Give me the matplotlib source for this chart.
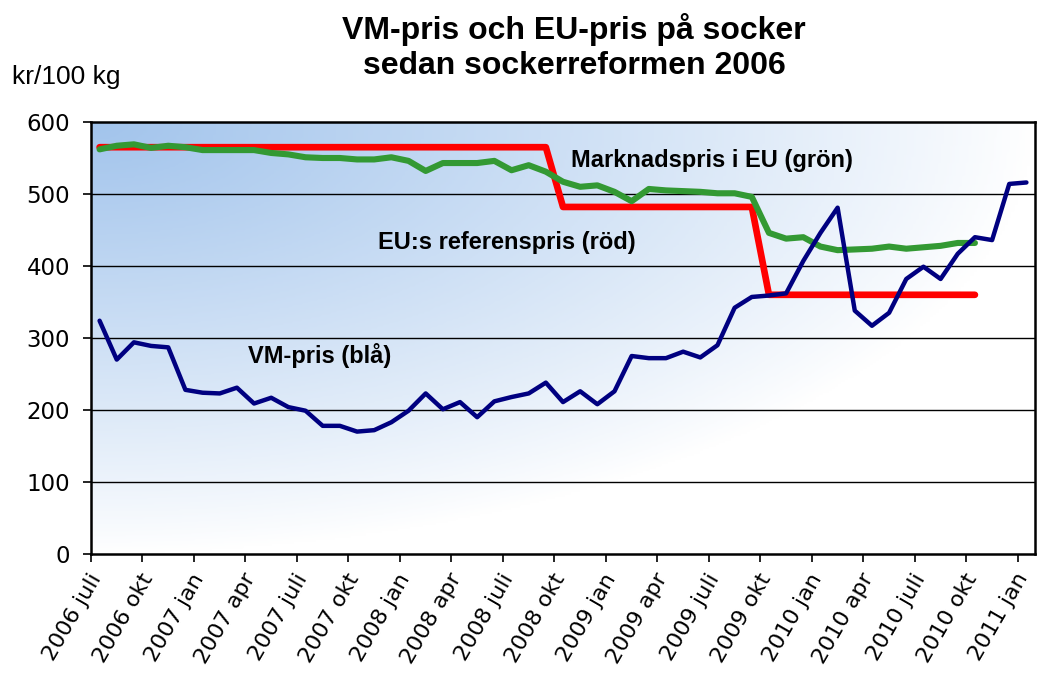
import numpy as np
import matplotlib
matplotlib.use("Agg")
import matplotlib.pyplot as plt
from matplotlib.colors import LinearSegmentedColormap
from matplotlib.transforms import ScaledTranslation


# monthly series, 2006 juli .. 2011 jan
tick_labels = [
    "2006 juli", "2006 okt", "2007 jan", "2007 apr", "2007 juli", "2007 okt",
    "2008 jan", "2008 apr", "2008 juli", "2008 okt", "2009 jan", "2009 apr",
    "2009 juli", "2009 okt", "2010 jan", "2010 apr", "2010 juli", "2010 okt",
    "2011 jan",
]
y_ticks = [0, 100, 200, 300, 400, 500, 600]

vm_pris = [
    324, 270, 294, 289, 287, 228, 224, 223, 231, 209,
    217, 204, 199, 178, 178, 170, 172, 183, 199, 223,
    201, 211, 190, 212, 218, 223, 238, 211, 226, 208,
    226, 275, 272, 272, 281, 273, 290, 342, 357, 359,
    362, 407, 446, 481, 338, 317, 335, 382, 399, 382,
    417, 440, 436, 514, 516,
]

marknadspris_eu = [
    562, 567, 569, 564, 567, 565, 561, 561, 561, 561,
    557, 555, 551, 550, 550, 548, 548, 551, 546, 532,
    543, 543, 543, 546, 533, 540, 531, 517, 510, 512,
    503, 490, 507, 505, 504, 503, 501, 501, 496, 446,
    438, 440, 427, 422, 423, 424, 427, 424, 426, 428,
    432, 432,
]

referenspris_eu = [
    565, 565, 565, 565, 565, 565, 565, 565, 565, 565,
    565, 565, 565, 565, 565, 565, 565, 565, 565, 565,
    565, 565, 565, 565, 565, 565, 565, 482, 482, 482,
    482, 482, 482, 482, 482, 482, 482, 482, 482, 360,
    360, 360, 360, 360, 360, 360, 360, 360, 360, 360,
    360, 360,
]

n_months = len(vm_pris)

fig = plt.figure(figsize=(10.37, 6.77), dpi=100)
ax = fig.add_axes([91 / 1037, 1 - 554 / 677, 944 / 1037, 432 / 677])

# blue-to-white background from the top left corner
u, v = np.meshgrid(np.linspace(0, 1, 300), np.linspace(0, 1, 200))
t = np.clip(1 - np.sqrt(u ** 2 + v ** 2), 0, 1) ** 0.9
bg_cmap = LinearSegmentedColormap.from_list("bg", ["#ffffff", "#a2c4ec"])
ax.imshow(t, cmap=bg_cmap, extent=[0, n_months, 0, 600], origin="upper",
          aspect="auto", zorder=0, vmin=0, vmax=1)

for yv in y_ticks[1:-1]:
    ax.axhline(yv, color="black", lw=1.0, zorder=1)

x_vm = np.arange(len(vm_pris)) + 0.5
x_eu = np.arange(len(marknadspris_eu)) + 0.5
x_ref = np.arange(len(referenspris_eu)) + 0.5

ax.plot(x_ref, referenspris_eu, color="#ff0000", lw=4.8, zorder=2,
        solid_joinstyle="round", solid_capstyle="round")
ax.plot(x_eu, marknadspris_eu, color="#339933", lw=4.4, zorder=3,
        solid_joinstyle="round", solid_capstyle="round")
ax.plot(x_vm, vm_pris, color="#000080", lw=3.2, zorder=4,
        solid_joinstyle="round", solid_capstyle="round")

ax.set_xlim(0, n_months)
ax.set_ylim(0, 600)

bold = dict(family="Liberation Sans", fontsize=17, fontweight="bold",
            ha="center", va="center", zorder=5)
ax.text(36.2, 546, "Marknadspris i EU (grön)", **bold)
ax.text(24.2, 433, "EU:s referenspris (röd)", **bold)
ax.text(13.3, 276, "VM-pris (blå)", **bold)

ax.set_yticks(y_ticks)
ax.set_yticklabels([str(y) for y in y_ticks], fontfamily="DejaVu Sans",
                   fontsize=16.5)
ax.set_xticks(range(0, n_months, 3))
ax.set_xticklabels(tick_labels, rotation=60, ha="right", va="center",
                   rotation_mode="anchor", fontfamily="DejaVu Sans",
                   fontsize=16)
ax.tick_params(axis="both", direction="out", length=6, width=1.2,
               color="black")
ax.tick_params(axis="y", pad=9)
ax.tick_params(axis="x", pad=9)
offset = ScaledTranslation(4 / 72, 0, fig.dpi_scale_trans)
for lab in ax.get_xticklabels():
    lab.set_transform(lab.get_transform() + offset)

for side in ["left", "bottom", "top", "right"]:
    ax.spines[side].set_linewidth(1.8)
    ax.spines[side].set_color("black")
    ax.spines[side].set_zorder(6)

fig.text(574 / 1037, 1 - 13 / 677,
         "VM-pris och EU-pris på socker\nsedan sockerreformen 2006",
         ha="center", va="top", family="Liberation Sans", fontsize=23,
         fontweight="bold", linespacing=1.2)
fig.text(12 / 1037, 1 - 84 / 677, "kr/100 kg", ha="left", va="baseline",
         family="Liberation Sans", fontsize=19)

fig.savefig("out.png", dpi=100)
